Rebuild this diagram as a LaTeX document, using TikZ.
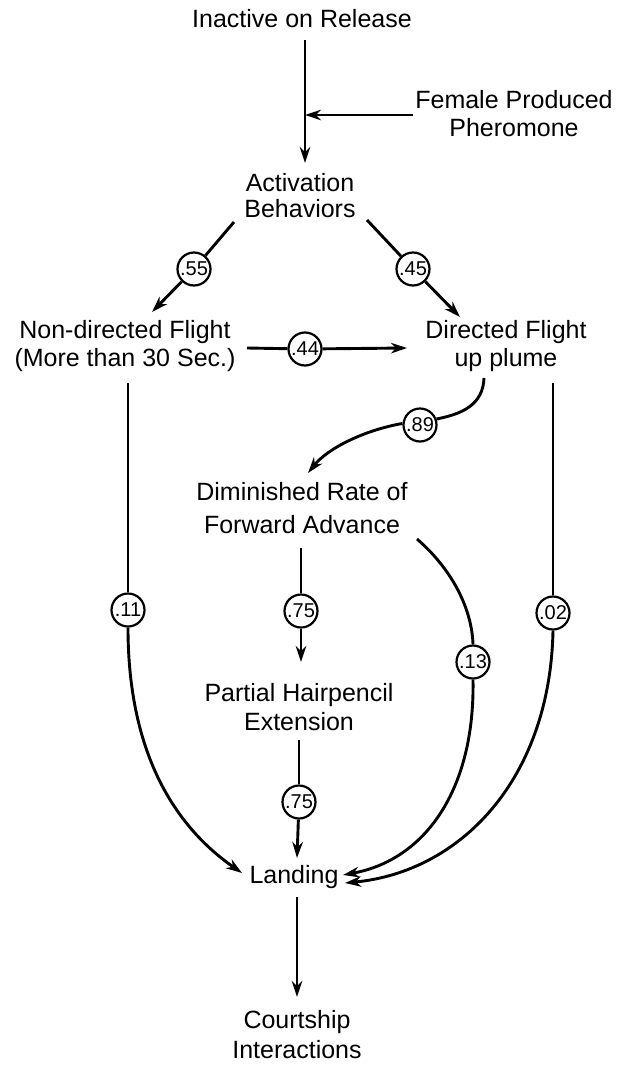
\documentclass[tikz,border=0pt]{standalone}
\usepackage{fontspec}
\setmainfont{Liberation Sans}
\usetikzlibrary{arrows.meta,calc}
\begin{document}
\begin{tikzpicture}[x=1pt,y=-1pt,
  lbl/.style={align=center,inner sep=0pt,font=\fontsize{25}{29}\selectfont},
  prob/.style={circle,draw,line width=2.2pt,minimum size=33pt,inner sep=0pt,fill=white,font=\fontsize{20}{20}\selectfont},
  conn/.style={line width=2.9pt},
  arr/.style={conn,-{Stealth[length=16pt,width=10.5pt,inset=5pt]}},
]
\useasboundingbox (0,0) rectangle (621,1065);
% text nodes
\node[lbl] (ina) at (302,19) {Inactive on Release};
\node[lbl,font=\fontsize{25}{28}\selectfont] (fem) at (514,114) {Female Produced\\Pheromone};
\node[lbl,font=\fontsize{25}{26}\selectfont] (act) at (300,196) {Activation\\Behaviors};
\node[lbl,font=\fontsize{25}{28}\selectfont] (nd) at (125,346) {Non-directed Flight\\(More than 30 Sec.)};
\node[lbl,font=\fontsize{25}{28}\selectfont] (df) at (506,346) {Directed Flight\\up plume};
\node[lbl,font=\fontsize{25}{33}\selectfont] (dim) at (302,508) {Diminished Rate of\\Forward Advance};
\node[lbl] (par) at (299,707) {Partial Hairpencil\\Extension};
\node[lbl] (land) at (294,877) {Landing};
\node[lbl,font=\fontsize{25}{30}\selectfont] (court) at (297,1035) {Courtship\\Interactions};
% probability circles
\node[prob] (c55) at (194,269) {.55};
\node[prob] (c45) at (413,269) {.45};
\node[prob] (c44) at (305,349) {.44};
\node[prob] (c89) at (420,425) {.89};
\node[prob] (c75a) at (301,611) {.75};
\node[prob] (c11) at (128,610) {.11};
\node[prob] (c02) at (553,613) {.02};
\node[prob] (c13) at (473,662) {.13};
\node[prob] (c75b) at (299,802) {.75};
% connectors
\coordinate (j) at ($(ina)+(3,96)$);
\draw[arr] ($(ina)+(3,21)$) -- ($(act)+(5,-33)$);
\draw[arr] ($(fem)+(-101,1)$) -- (j);
\draw[conn] ($(act)+(-66,26)$) -- (c55);
\draw[arr] (c55) -- ($(nd)+(27,-34)$);
\draw[conn] ($(act)+(67,24)$) -- (c45);
\draw[arr] (c45) -- ($(df)+(-46,-29)$);
\draw[conn] ($(nd)+(122,2)$) -- (c44);
\draw[arr] (c44) -- ($(df)+(-99,2)$);
\draw[conn] ($(df)+(-22,32)$) .. controls (483,405) and (462,414) .. (c89.20);
\draw[arr] (c89.175) .. controls (365,430) and (328,448) .. ($(dim)+(6,-35)$);
\draw[conn] ($(nd)+(3,37)$) -- (c11);
\draw[arr] (c11.south) .. controls (128,760) and (180,830) .. ($(land)+(-52,-4)$);
\draw[conn] ($(df)+(47,37)$) -- (c02);
\draw[arr] (c02.south) .. controls (550,780) and (460,872) .. ($(land)+(51,6)$);
\draw[conn] ($(dim)+(-1,40)$) -- (c75a);
\draw[arr] (c75a) -- ($(par)+(2,-45)$);
\draw[conn] ($(dim)+(115,31)$) .. controls (455,572) and (472,612) .. (c13.north);
\draw[arr] (c13.south) .. controls (475,790) and (425,860) .. ($(land)+(49,-2)$);
\draw[conn] ($(par)+(0,33)$) -- (c75b);
\draw[arr] (c75b) -- ($(land)+(3,-19)$);
\draw[arr] ($(land)+(3,20)$) -- ($(court)+(0,-38)$);
\end{tikzpicture}
\end{document}
